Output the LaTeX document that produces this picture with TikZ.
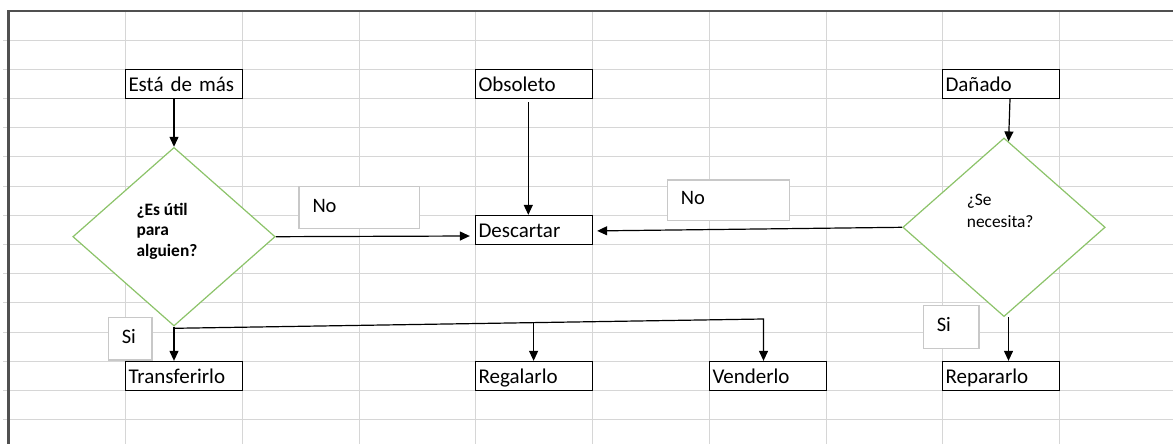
\documentclass[tikz,border=0pt]{standalone}
\usepackage{fontspec}
\setmainfont{Carlito}
\usetikzlibrary{shapes.geometric,arrows.meta,calc}
\definecolor{gridc}{RGB}{214,214,214}
\definecolor{edgec}{RGB}{80,80,80}
\definecolor{lblc}{RGB}{200,200,200}
\definecolor{dgreen}{RGB}{140,195,105}
\begin{document}
\begin{tikzpicture}[x=1pt,y=-1pt,
  box/.style={draw=black, line width=1.3pt, fill=white, text width=111pt,
    inner xsep=3pt, inner ysep=0pt, align=left, text height=21.6pt, text depth=7.4pt,
    font=\fontsize{21}{25}\selectfont},
  dia/.style={diamond, draw=dgreen, line width=1.2pt, fill=white, inner sep=0pt,
    minimum width=202.4pt, minimum height=178.6pt},
  qbold/.style={inner sep=0pt, align=left, font=\fontsize{17.4}{20.8}\selectfont\bfseries},
  qreg/.style={inner sep=0pt, align=left, font=\fontsize{17.4}{21.6}\selectfont},
  lbl/.style={draw=lblc, line width=1.3pt, fill=white, inner xsep=13.5pt, inner ysep=0pt,
    align=left, text height=13pt, text depth=4pt, font=\fontsize{20.5}{24}\selectfont},
  arr/.style={draw=black, line width=1.2pt, -{Triangle[length=10pt,width=9pt]}}
]
\useasboundingbox (0,0) rectangle (1173,444);
\fill[white] (0,0) rectangle (1173,444);
% spreadsheet grid
\foreach \yy in {40.5,69.5,98.5,127.5,156.5,186.5,215.5,244.5,273.5,302.5,332.5,361.5,390.5,419.5}
  \draw[gridc, line width=1.2pt] (3,\yy) -- (1173,\yy);
\foreach \xx in {125.5,242.5,359.5,475.5,592.5,709.5,826.5,942.5,1059.5}
  \draw[gridc, line width=1.2pt] (\xx,10.5) -- (\xx,444);
\draw[edgec, line width=2.2pt] (1173,11) -- (8.5,11) -- (8.5,444);

% boxes
\node[box] (esta) at (184,84) {Está de más};
\node[box] (obs) at (534,84) {Obsoleto};
\node[box] (danado) at (1001,84) {Dañado};
\node[box] (desc) at (534,230) {Descartar};
\node[box] (trans) at (184,376) {Transferirlo};
\node[box] (regal) at (534,376) {Regalarlo};
\node[box] (vend) at (768,376) {Venderlo};
\node[box] (repar) at (1001,376) {Repararlo};

% decisions
\node[dia] (q1) at (174,236.7) {};
\node[qbold, anchor=north west] (q1t) at (136.3,202.6) {¿Es útil\\para\\alguien?};
\node[dia] (q2) at (1004,227.3) {};
\node[qreg, anchor=north west] (q2t) at (966.7,194.5) {¿Se\\necesita?};

% labels
\node[lbl, text width=93.7pt, minimum height=41.6pt] (no1) at (359.35,207.5) {No};
\node[lbl, text width=95pt, minimum height=40.7pt] (no2) at (728.3,200.35) {No};
\node[lbl, text width=16.7pt, minimum height=42.3pt] (si1) at (130.15,338.85) {Si};
\node[lbl, text width=28.7pt, minimum height=42.6pt] (si2) at (951.15,327) {Si};

% connectors
\draw[arr] (esta.south -| q1.north) -- (q1.north);
\draw[arr] ([xshift=-5.7pt,yshift=-3pt]obs.south) -- ([xshift=-5.7pt]desc.north);
\draw[arr] ([xshift=9pt]danado.south) -- ($(q2.north)!0.045!(q2.east)$);
\draw[arr] (q1.east) -- ([xshift=-5pt,yshift=-6pt]desc.west);
\draw[arr] (q2.west) -- ([xshift=4pt,yshift=-0.9pt]desc.east);
\draw[arr] (q1.south) -- (q1.south |- trans.north);
\coordinate (j0) at ([yshift=-1.7pt]q1.south);
\coordinate (j1) at (763.5,319);
\draw[arr] (j0) -- (j1) -- (j1 |- vend.north);
\coordinate (j2) at ($(j0)!0.61!(j1)$);
\draw[arr] (j2) -- (j2 |- regal.north);
\draw[arr] ([xshift=4.5pt]q2.south) -- ([xshift=4.5pt]q2.south |- repar.north);
\end{tikzpicture}
\end{document}
